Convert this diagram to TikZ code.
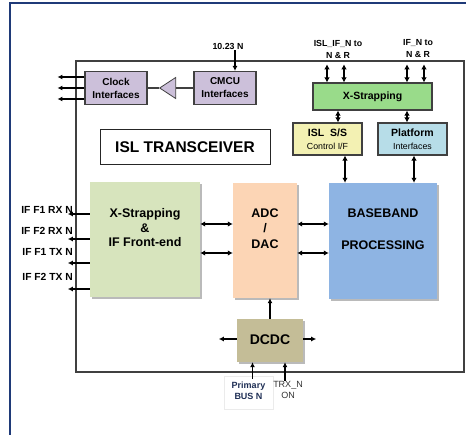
\documentclass[tikz,border=0pt]{standalone}
\usepackage{fontspec}
\setmainfont{Liberation Sans}
\usetikzlibrary{arrows.meta,positioning,shapes.geometric,shadows}

\definecolor{frameblue}{HTML}{1F3A78}
\definecolor{edge}{HTML}{404040}
\definecolor{lav}{HTML}{CCC0DA}
\definecolor{xsgreen}{HTML}{99DB8A}
\definecolor{sscream}{HTML}{F3F1B3}
\definecolor{platblue}{HTML}{B7DDE8}
\definecolor{fegreen}{HTML}{D7E4BD}
\definecolor{adcpeach}{HTML}{FCD5B5}
\definecolor{bbblue}{HTML}{8EB4E3}
\definecolor{dctan}{HTML}{C4BD97}
\definecolor{busnavy}{HTML}{1F2F55}

\begin{document}
\begin{tikzpicture}[x=1pt, y=-1pt,
  smallbox/.style={rectangle, draw=edge, line width=1.1pt, minimum width=62pt, minimum height=33pt, inner sep=0pt, align=center, font=\fontsize{10}{13}\selectfont\bfseries},
  bigbox/.style={rectangle, inner sep=0pt, drop shadow={shadow xshift=2pt, shadow yshift=-2pt, fill=black!45, opacity=.6}},
  bigtext/.style={align=center, inner sep=0pt, font=\fontsize{12.5}{14.5}\selectfont\bfseries},
  pinlabel/.style={align=center, inner sep=1pt, font=\fontsize{8.8}{12}\selectfont\bfseries},
  iflabel/.style={anchor=east, inner sep=0pt, font=\fontsize{10.3}{11}\selectfont\bfseries},
  arr/.style={-{Latex[length=5pt,width=5pt]}, line width=1.3pt},
  dbl/.style={{Latex[length=5pt,width=5.5pt]}-{Latex[length=5pt,width=5.5pt]}, line width=1.8pt}
]
\useasboundingbox (0,0) rectangle (466,435);

% frame and transceiver outline
\draw[frameblue, line width=2.5pt] (10,435) -- (10,3) -- (466,3);
\draw[edge, line width=1.3pt] (76,61) rectangle (464,372);

% clock path
\node[smallbox, fill=lav] (clock) at (116,88) {Clock\\Interfaces};
\node[smallbox, fill=lav] (cmcu) at (225,88) {CMCU\\Interfaces};
\node[isosceles triangle, isosceles triangle stretches, shape border rotate=180,
      draw=edge, fill=lav, line width=0.8pt, inner sep=0pt,
      minimum height=16pt, minimum width=21pt] (amp) at (170,88) {};
\draw[edge, line width=1.1pt] (clock) -- (amp) -- (cmcu);
\foreach \dy in {11,0,-11}
  \draw[arr] ([yshift=\dy pt]clock.west) -- ++(-27,0);
\node[pinlabel] (clkin) at (228,46) {10.23 N};
\draw[arr] ([xshift=7pt]clkin.south) -- ([xshift=7pt]clkin.south |- cmcu.north);

% cross strapping
\node[pinlabel] (isltop) at (338,49) {ISL\_IF\_N to\\N \& R};
\node[pinlabel] (iftop) at (418,49) {IF\_N to\\N \& R};
\node[smallbox, fill=xsgreen, minimum width=119pt, minimum height=27pt, font=\fontsize{10.5}{13}\selectfont\bfseries] (xs) at (372.5,96.5) {X-Strapping};
\foreach \dx in {-11,6} {
  \draw[dbl] ([xshift=\dx pt, yshift=-5pt]isltop.south) -- ([xshift=\dx pt]isltop.south |- xs.north);
  \draw[dbl] ([xshift=\dx pt, yshift=-5pt]iftop.south) -- ([xshift=\dx pt]iftop.south |- xs.north);
}
\node[smallbox, fill=sscream, minimum width=69pt, minimum height=32pt] (isl) at (327.5,139)
  {\fontsize{10.5}{13}\selectfont ISL\ \ S/S\\\fontsize{8.8}{10}\selectfont\mdseries Control I/F};
\node[smallbox, fill=platblue, minimum width=69pt, minimum height=32pt] (plat) at (412.5,139)
  {\fontsize{10.5}{13}\selectfont Platform\\\fontsize{8.8}{10}\selectfont\mdseries Interfaces};
\draw[dbl] (isl.north -| 338,0) -- (xs.south -| 338,0);
\draw[dbl] (plat.north -| 407,0) -- (xs.south -| 407,0);

% title
\node[rectangle, draw=black!85, line width=1pt, minimum width=170pt, minimum height=35pt,
      font=\fontsize{15.5}{18}\selectfont\bfseries] (title) at (185,147.5) {ISL TRANSCEIVER};

% main chain
\node[bigbox, fill=fegreen, minimum width=110pt, minimum height=115pt] (fe) at (145,239.5) {};
\node[bigbox, fill=adcpeach, minimum width=64pt, minimum height=115pt] (adc) at (265,240.5) {};
\node[bigbox, fill=bbblue, minimum width=108pt, minimum height=116pt] (bb) at (383,241) {};
\node[bigtext] (fetxt) at (145,228) {X-Strapping\\\&\\IF Front-end};
\node[bigtext, font=\fontsize{12.5}{15.5}\selectfont\bfseries] (adctxt) at (265,228.5) {ADC\\/\\DAC};
\node[bigtext] (bbtxt) at (383,229) {BASEBAND\\[17pt]PROCESSING};

\foreach \yy in {224,253} {
  \draw[dbl] (fe.east |- 0,\yy) -- (adc.west |- 0,\yy);
  \draw[dbl] (adc.east |- 0,\yy) -- (bb.west |- 0,\yy);
}
\draw[dbl] ([xshift=17.5pt]isl.south) -- ([xshift=17.5pt]isl.south |- bb.north);
\draw[dbl] ([xshift=1.5pt]plat.south) -- ([xshift=1.5pt]plat.south |- bb.north);

% IF ports
\node[iflabel] (rx1) at (73,210) {IF F1 RX N};
\node[iflabel] (rx2) at (73,230.5) {IF F2 RX N};
\node[iflabel] (tx1) at (73,252) {IF F1 TX N};
\node[iflabel] (tx2) at (73,277) {IF F2 TX N};
\foreach \yy in {214,239,263,289}
  \draw[arr, line width=1.1pt] (fe.west |- 0,\yy) -- ++(-22,0);

% power
\node[bigbox, fill=dctan, minimum width=66pt, minimum height=43pt,
      font=\fontsize{14}{16}\selectfont\bfseries] (dcdc) at (270,340.5) {\raisebox{2pt}{DCDC}};
\draw[arr] (dcdc.north) -- (dcdc.north |- adc.south);
\draw[arr] ([yshift=1.5pt]dcdc.west) -- ++(-18,0);
\draw[arr] ([yshift=1.5pt]dcdc.east) -- ++(13,0);
\node[draw=black!8, line width=0.6pt, minimum width=49pt, minimum height=33pt, align=center,
      inner sep=0pt, text=busnavy, font=\fontsize{9}{11}\selectfont\bfseries] (pbus) at (248.5,392.5) {\raisebox{4pt}{\shortstack{Primary\\BUS N}}};
\node[align=center, inner sep=0pt, text=black!80, font=\fontsize{9}{11}\selectfont] (trx) at (288,389.5) {TRX\_N\\ON};
\draw[arr] ([xshift=4pt,yshift=-3pt]pbus.north) -- ([xshift=4pt]pbus.north |- dcdc.south);
\draw[arr] ([xshift=-3pt]trx.north) -- ([xshift=-3pt]trx.north |- dcdc.south);

\end{tikzpicture}
\end{document}
